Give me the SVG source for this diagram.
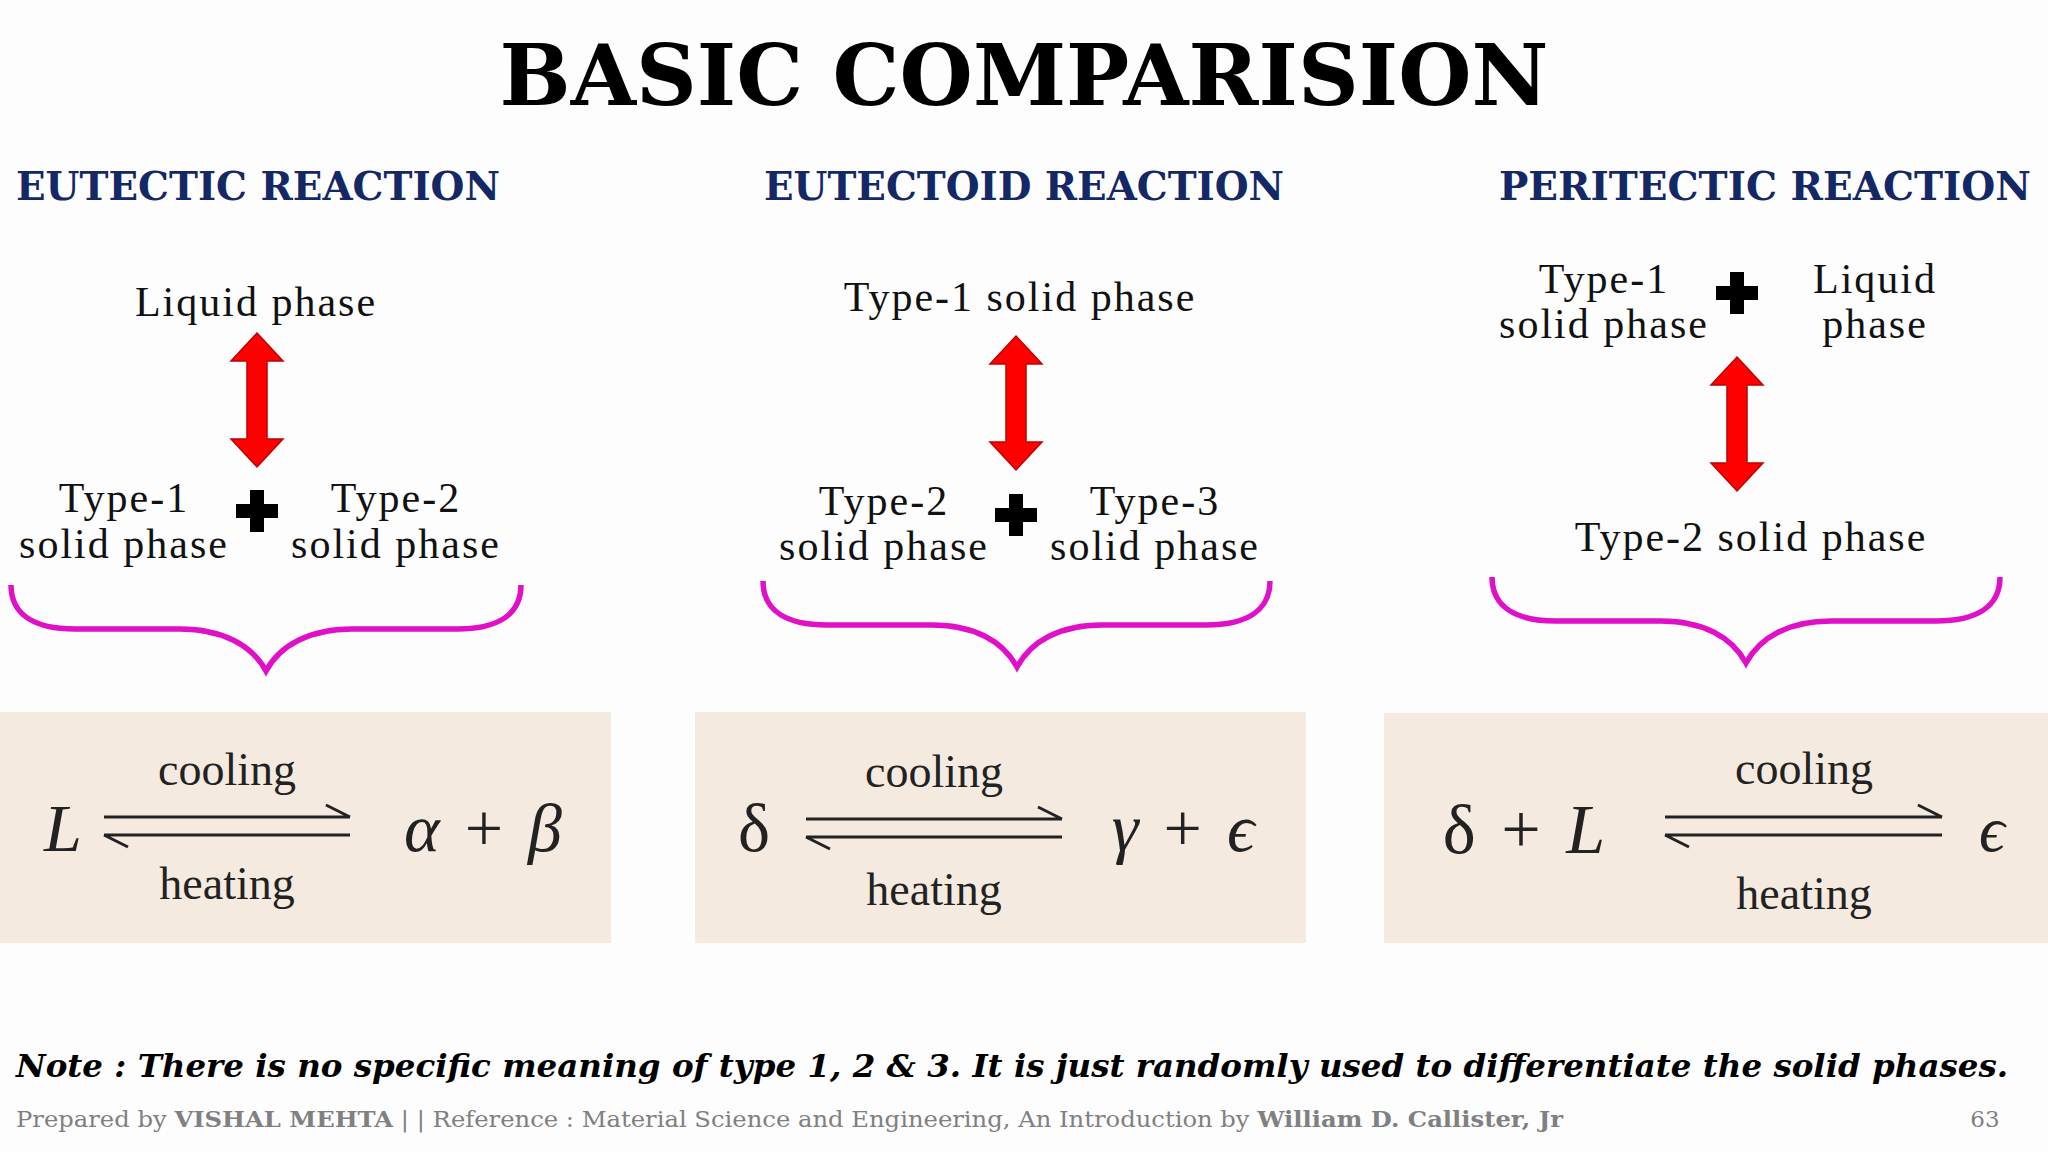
<svg xmlns="http://www.w3.org/2000/svg" width="2048" height="1152" viewBox="0 0 2048 1152">
<defs>
<style>
.t{font-family:"DejaVu Serif","Liberation Serif",serif;font-weight:bold;}
.h{font-family:"DejaVu Serif","Liberation Serif",serif;font-weight:bold;fill:#142866;font-size:40px;}
.l{font-family:"Liberation Serif",serif;font-size:42px;letter-spacing:2px;fill:#111;text-anchor:middle;}
.e{font-family:"Liberation Serif",serif;fill:#222;text-anchor:middle;}
.br{fill:none;stroke:#e010c8;stroke-width:5.5;}
.box{fill:#f5eadf;}
.harp{fill:none;stroke:#222;stroke-width:3;}
</style>
<g id="dbl"><path d="M0,-67 L26,-39 L10,-39 L10,39 L26,39 L0,67 L-26,39 L-10,39 L-10,-39 L-26,-39 Z" fill="#ff0000" stroke="#c00000" stroke-width="1.5"/></g>
<g id="plus"><path d="M-7,-21 H7 V-7 H21 V7 H7 V21 H-7 V7 H-21 V-7 H-7 Z" fill="#000"/></g>
</defs>
<rect width="2048" height="1152" fill="#fdfdfe"/>
<text class="t" x="1024" y="105" font-size="84" text-anchor="middle" textLength="1049" lengthAdjust="spacingAndGlyphs">BASIC COMPARISION</text>
<text class="h" x="16" y="200" textLength="484" lengthAdjust="spacingAndGlyphs">EUTECTIC REACTION</text>
<text class="h" x="764" y="200" textLength="520" lengthAdjust="spacingAndGlyphs">EUTECTOID REACTION</text>
<text class="h" x="1499" y="200" textLength="532" lengthAdjust="spacingAndGlyphs">PERITECTIC REACTION</text>

<g id="eutectic">
<text class="l" x="256" y="316">Liquid phase</text>
<use href="#dbl" x="257" y="400"/>
<use href="#plus" x="257" y="511"/>
<text class="l" x="124" y="512">Type-1</text><text class="l" x="124" y="558">solid phase</text>
<text class="l" x="396" y="512">Type-2</text><text class="l" x="396" y="558">solid phase</text>
<path class="br" d="M11,585 C11,615 35,629 75,629 H180 C222,629 252,645 266,671 C280,645 310,629 352,629 H457 C497,629 521,615 521,585"/>
<rect class="box" x="0" y="712" width="611" height="231"/>
<text class="e" x="63" y="851" font-size="68" font-style="italic">L</text>
<text class="e" x="227" y="785" font-size="46">cooling</text>
<text class="e" x="227" y="899" font-size="46">heating</text>
<path class="harp" d="M104,817 H350 M350,817 L326,805"/>
<path class="harp" d="M104,835 H350 M104,835 L128,847"/>
<text class="e" x="483" y="851" font-size="68" word-spacing="8"><tspan font-style="italic">α</tspan> + <tspan font-style="italic">β</tspan></text>
</g>

<g id="eutectoid">
<text class="l" x="1020" y="311">Type-1 solid phase</text>
<use href="#dbl" x="1016" y="403"/>
<use href="#plus" x="1016" y="515"/>
<text class="l" x="884" y="515">Type-2</text><text class="l" x="884" y="560">solid phase</text>
<text class="l" x="1155" y="515">Type-3</text><text class="l" x="1155" y="560">solid phase</text>
<path class="br" d="M763,581 C763,611 787,625 827,625 H932 C974,625 1003,641 1017,667 C1031,641 1060,625 1102,625 H1206 C1246,625 1270,611 1270,581"/>
<rect class="box" x="695" y="712" width="611" height="231"/>
<text class="e" x="754" y="851" font-size="68">δ</text>
<text class="e" x="934" y="787" font-size="46">cooling</text>
<text class="e" x="934" y="905" font-size="46">heating</text>
<path class="harp" d="M806,819 H1062 M1062,819 L1038,807"/>
<path class="harp" d="M806,837 H1062 M806,837 L830,849"/>
<text class="e" x="1183" y="851" font-size="68" word-spacing="8"><tspan font-style="italic">γ</tspan> + <tspan font-style="italic">ϵ</tspan></text>
</g>

<g id="peritectic">
<text class="l" x="1604" y="293">Type-1</text><text class="l" x="1604" y="338">solid phase</text>
<use href="#plus" x="1737" y="293"/>
<text class="l" x="1875" y="293">Liquid</text><text class="l" x="1875" y="338">phase</text>
<use href="#dbl" x="1737" y="424"/>
<text class="l" x="1751" y="551">Type-2 solid phase</text>
<path class="br" d="M1492,577 C1492,607 1516,621 1556,621 H1661 C1703,621 1732,637 1746,663 C1760,637 1789,621 1831,621 H1936 C1976,621 2000,607 2000,577"/>
<rect class="box" x="1384" y="713" width="664" height="230"/>
<text class="e" x="1524" y="853" font-size="70" word-spacing="8">δ + <tspan font-style="italic">L</tspan></text>
<text class="e" x="1804" y="784" font-size="46">cooling</text>
<text class="e" x="1804" y="909" font-size="46">heating</text>
<path class="harp" d="M1665,817 H1942 M1942,817 L1918,805"/>
<path class="harp" d="M1665,835 H1942 M1665,835 L1689,847"/>
<text class="e" x="1992" y="851" font-size="64" font-style="italic">ϵ</text>
</g>

<text class="t" x="16" y="1077" font-size="32" font-style="italic" textLength="1992" lengthAdjust="spacingAndGlyphs">Note : There is no specific meaning of type 1, 2 &amp; 3. It is just randomly used to differentiate the solid phases.</text>
<text x="16" y="1127" font-family="DejaVu Serif,serif" font-size="23" fill="#808080" textLength="1547" lengthAdjust="spacingAndGlyphs">Prepared by <tspan font-weight="bold">VISHAL MEHTA</tspan> | | Reference : Material Science and Engineering, An Introduction by <tspan font-weight="bold">William D. Callister, Jr</tspan></text>
<text x="1985" y="1127" font-family="DejaVu Serif,serif" font-size="23" fill="#808080" text-anchor="middle">63</text>
</svg>
